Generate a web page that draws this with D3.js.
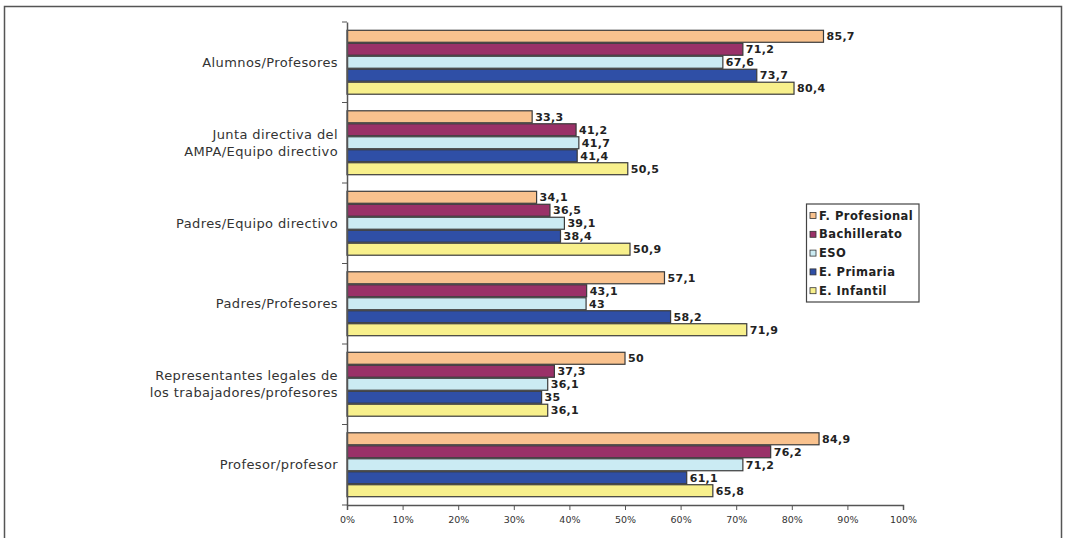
<!DOCTYPE html>
<html><head><meta charset="utf-8">
<script src="https://cdn.jsdelivr.net/npm/d3@7/dist/d3.min.js"></script>
<style>body{margin:0;background:#fff}svg{display:block}</style>
</head><body>
<svg id="c" width="1066" height="538"></svg>
<script>
const categories = ["Alumnos/Profesores","Junta directiva del\nAMPA/Equipo directivo","Padres/Equipo directivo","Padres/Profesores","Representantes legales de\nlos trabajadores/profesores","Profesor/profesor"];
const seriesNames = ["F. Profesional","Bachillerato","ESO","E. Primaria","E. Infantil"];
const fProfesional = [85.7,33.3,34.1,57.1,50,84.9];
const bachillerato = [71.2,41.2,36.5,43.1,37.3,76.2];
const eso = [67.6,41.7,39.1,43,36.1,71.2];
const ePrimaria = [73.7,41.4,38.4,58.2,35,61.1];
const eInfantil = [80.4,50.5,50.9,71.9,36.1,65.8];
const seriesValues = [fProfesional,bachillerato,eso,ePrimaria,eInfantil];
const xTicks = [0,10,20,30,40,50,60,70,80,90,100];
const colors = ["#F9C28E","#9A3168","#CBEBF3","#2F4FA6","#F8F08C"];

const svg = d3.select("#c");
const FONT = "DejaVu Sans, Verdana, sans-serif";
// outer frame
svg.append("path").attr("d","M4.5,540 V6.5 H1061.5 V540").attr("fill","none").attr("stroke","#555").attr("stroke-width",1.5);

const pLeft=347, pRight=903, pTop=22, pBottom=505;
const x = d3.scaleLinear().domain([0,100]).range([pLeft,pRight]);
const y = d3.scaleBand().domain(categories).range([pTop,pBottom]).padding(0);
const inner = d3.scaleBand().domain(seriesNames).range([0,y.bandwidth()]).paddingOuter(0.6).paddingInner(0);

const fmt = v => String(v).replace(".",",");
const g = svg.append("g");
categories.forEach((c,ci)=>{
  seriesNames.forEach((s,si)=>{
    const v = seriesValues[si][ci];
    const yy = y(c)+inner(s);
    g.append("rect").attr("x",x(0)).attr("y",yy+0.5).attr("width",x(v)-x(0)).attr("height",inner.bandwidth()-1)
      .attr("fill",colors[si]).attr("stroke","#3a3a3a").attr("stroke-width",1.2);
    g.append("text").attr("x",x(v)+3).attr("y",yy+inner.bandwidth()/2).attr("dy","0.36em")
      .attr("font-family",FONT).attr("font-weight","bold").attr("font-size",11).attr("letter-spacing",0.3)
      .attr("fill","#222").text(fmt(v));
  });
});

// x axis
const xa = svg.append("g").attr("transform",`translate(0,${pBottom})`)
  .call(d3.axisBottom(x).tickValues(xTicks).tickSize(5).tickFormat(d=>d+"%"));
xa.select(".domain").attr("stroke","#555").attr("stroke-width",1.5);
xa.selectAll(".tick line").attr("stroke","#555");
xa.selectAll("text").attr("font-family",FONT).attr("font-size",9.5).attr("fill","#333").attr("dy","1.05em");

// y axis
const ya = svg.append("g").attr("transform",`translate(${pLeft},0)`)
  .call(d3.axisLeft(y).tickSize(0).tickFormat(""));
ya.select(".domain").attr("stroke","#555").attr("stroke-width",1.5);
categories.concat([null]).forEach((c,i)=>{
  const yy = c===null? pBottom : y(c);
  ya.append("line").attr("x1",-5).attr("x2",0).attr("y1",yy).attr("y2",yy).attr("stroke","#555");
});
categories.forEach(c=>{
  const lines=c.split("\n");
  const t = svg.append("text").attr("x",338).attr("text-anchor","end")
    .attr("font-family",FONT).attr("font-size",13).attr("letter-spacing",0.4).attr("fill","#333");
  const cy = y(c)+y.bandwidth()/2;
  lines.forEach((l,i)=>{
    t.append("tspan").attr("x",338).attr("y",cy+(i-(lines.length-1)/2)*17).attr("dy","0.36em").text(l);
  });
});

// legend
const lg = svg.append("g");
lg.append("rect").attr("x",806.5).attr("y",204).attr("width",112.5).attr("height",98).attr("fill","#fff").attr("stroke","#444").attr("stroke-width",1.2);
seriesNames.forEach((s,i)=>{
  const ly = 215.5+i*18.8;
  lg.append("rect").attr("x",810).attr("y",ly-3).attr("width",6).attr("height",6).attr("fill",colors[i]).attr("stroke","#333").attr("stroke-width",0.8);
  lg.append("text").attr("x",819).attr("y",ly).attr("dy","0.36em")
    .attr("font-family",FONT).attr("font-weight","bold").attr("font-size",11.5).attr("letter-spacing",0.45).attr("fill","#222").text(s);
});
</script>
</body></html>
